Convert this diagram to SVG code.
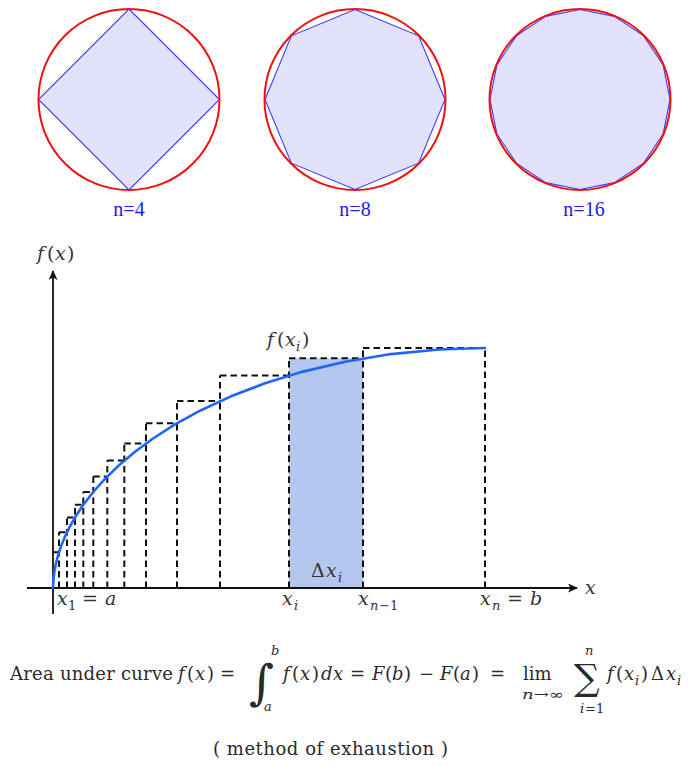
<svg xmlns="http://www.w3.org/2000/svg" width="695" height="767" viewBox="0 0 695 767">
<style>
.circ{fill:none;stroke:#ee1111;stroke-width:2}
.poly{fill:#e2e2fc;stroke:#3a3aff;stroke-width:1.1}
.nlab{font-family:"Liberation Serif",serif;font-size:20px;fill:#2020e6;text-anchor:middle}
.dash{fill:none;stroke:#111;stroke-width:2;stroke-dasharray:6.5 4}
.axis{stroke:#111;stroke-width:1.8;fill:none}
.curve{fill:none;stroke:#1f66f5;stroke-width:2.6;stroke-linejoin:round;stroke-linecap:round}
.t{font-family:"DejaVu Serif",serif;font-size:18px;fill:#2a2a2a}
.g{font-size:19px;fill:#333}
.i{font-style:italic}
.s{font-size:13px}
</style>
<defs>
<marker id="arr" markerUnits="userSpaceOnUse" markerWidth="12" markerHeight="10" refX="9" refY="4.5" orient="auto">
<path d="M0,0 L10,4.5 L0,9 L2.5,4.5 Z" fill="#111"/>
</marker>
</defs>
<rect width="695" height="767" fill="#ffffff"/>

<g id="circle-n4">
<polygon class="poly" points="129,9 219.5,99.5 129,190 38.5,99.5"/>
<circle class="circ" cx="129" cy="99.5" r="90.5"/>
<text class="nlab" x="129" y="216">n=4</text>
</g>
<g id="circle-n8">
<polygon class="poly" points="355,9.5 418.64,35.86 445,99.5 418.64,163.14 355,189.5 291.36,163.14 265,99.5 291.36,35.86"/>
<circle class="circ" cx="355" cy="99.5" r="90.5"/>
<text class="nlab" x="355" y="216">n=8</text>
</g>
<g id="circle-n16">
<polygon class="poly" points="580,9.5 614.44,16.35 643.64,35.86 663.15,65.06 670,99.5 663.15,133.94 643.64,163.14 614.44,182.65 580,189.5 545.56,182.65 516.36,163.14 496.85,133.94 490,99.5 496.85,65.06 516.36,35.86 545.56,16.35"/>
<circle class="circ" cx="580" cy="99.5" r="90.5"/>
<text class="nlab" x="584" y="216">n=16</text>
</g>

<g id="shaded-strip">
<rect x="289" y="358.3" width="74" height="229.7" fill="#b4c7ee"/>
</g>

<g id="connectors">
<path class="dash" d="M59,588 V532.2 M67,588 V517.5 M75,588 V504.8 M83.3,588 V491.9 M93.3,588 V476.5 M107.3,588 V460.6 M124.3,588 V443.4 M146,588 V423.3 M177,588 V401.1 M220,588 V375.6 M289,588 V358.3 M363,588 V348 M485,588 V348"/>
<path class="dash" d="M53,552.2 H59 M59,532.2 H67 M67,517.5 H75 M75,504.8 H83.3 M83.3,491.9 H93.3 M93.3,476.5 H107.3 M107.3,460.6 H124.3 M124.3,443.4 H146 M146,423.3 H177 M177,401.1 H220 M220,375.6 H289 M289,358.3 H363 M363,348 H485"/>
<line class="axis" x1="27" y1="588" x2="577" y2="588" marker-end="url(#arr)"/>
<line class="axis" x1="53" y1="614" x2="53" y2="271" marker-end="url(#arr)"/>
<path class="curve" d="M53,588 L53.5,578.38 L54.5,570.79 L56,563.17 L58,555.49 L61,546.37 L65,536.52 L70,526.27 L76,515.81 L83,505.26 L93,492.25 L105,478.82 L119,465.25 L135,451.76 L153,438.51 L175,424.44 L201,410.2 L231,396.32 L265,383.3 L303,371.61 L345,361.71 L391,354.09 L439,349.45 L485,348"/>
</g>

<g id="graph-labels">
<text class="t g" y="260"><tspan class="i" x="37">f</tspan><tspan x="47">(</tspan><tspan class="i" x="55">x</tspan><tspan x="67">)</tspan></text>
<text class="t g" y="346"><tspan class="i" x="267">f</tspan><tspan x="277">(</tspan><tspan class="i" x="285">x</tspan><tspan class="i s" x="296" y="351">i</tspan><tspan x="302" y="346">)</tspan></text>
<text class="t g" y="577"><tspan x="311">Δ</tspan><tspan class="i" x="326">x</tspan><tspan class="i s" x="338" y="582">i</tspan></text>
<text class="t g i" x="585" y="594">x</text>
<text class="t g" y="605"><tspan class="i" x="57">x</tspan><tspan class="s" x="68" y="610">1</tspan><tspan x="82" y="605">=</tspan><tspan class="i" x="105">a</tspan></text>
<text class="t g" y="605"><tspan class="i" x="282">x</tspan><tspan class="i s" x="294" y="610">i</tspan></text>
<text class="t g" y="605"><tspan class="i" x="358">x</tspan><tspan class="i s" x="370" y="610">n</tspan><tspan class="s" x="379" y="610">−1</tspan></text>
<text class="t g" y="605"><tspan class="i" x="480">x</tspan><tspan class="i s" x="492" y="610">n</tspan><tspan x="507" y="605">=</tspan><tspan class="i" x="530">b</tspan></text>
</g>

<g id="formula">
<text class="t" x="10" y="680" textLength="163">Area under curve</text>
<text class="t" y="680"><tspan class="i" x="178">f</tspan><tspan x="187">(</tspan><tspan class="i" x="195">x</tspan><tspan x="207">)</tspan><tspan x="220">=</tspan></text>
<text class="t" x="249" y="699" style="font-size:48px">∫</text>
<text class="t i s" x="271" y="655">b</text>
<text class="t i s" x="264" y="711">a</text>
<text class="t" y="680"><tspan class="i" x="283">f</tspan><tspan x="292">(</tspan><tspan class="i" x="300">x</tspan><tspan x="312">)</tspan><tspan class="i" x="321">d</tspan><tspan class="i" x="333">x</tspan><tspan x="350">=</tspan></text>
<text class="t" y="680"><tspan class="i" x="372">F</tspan><tspan x="385">(</tspan><tspan class="i" x="392">b</tspan><tspan x="404">)</tspan><tspan x="419">−</tspan><tspan class="i" x="440">F</tspan><tspan x="453">(</tspan><tspan class="i" x="460">a</tspan><tspan x="472">)</tspan><tspan x="490">=</tspan></text>
<text class="t" x="523" y="680">lim</text>
<text class="t s" x="522" y="699" textLength="42" lengthAdjust="spacingAndGlyphs"><tspan class="i">n</tspan>→∞</text>
<text class="t" x="574" y="690" style="font-size:36px">∑</text>
<text class="t i s" x="585" y="655">n</text>
<text class="t s" y="713"><tspan class="i" x="580">i</tspan><tspan x="585">=1</tspan></text>
<text class="t" y="680"><tspan class="i" x="607">f</tspan><tspan x="616">(</tspan><tspan class="i" x="624">x</tspan><tspan class="i s" x="635" y="685">i</tspan><tspan x="641" y="680">)</tspan><tspan x="651">Δ</tspan><tspan class="i" x="666">x</tspan><tspan class="i s" x="677" y="685">i</tspan></text>
</g>

<g id="caption">
<text class="t" x="213" y="755" textLength="235">( method of exhaustion )</text>
</g>
</svg>
